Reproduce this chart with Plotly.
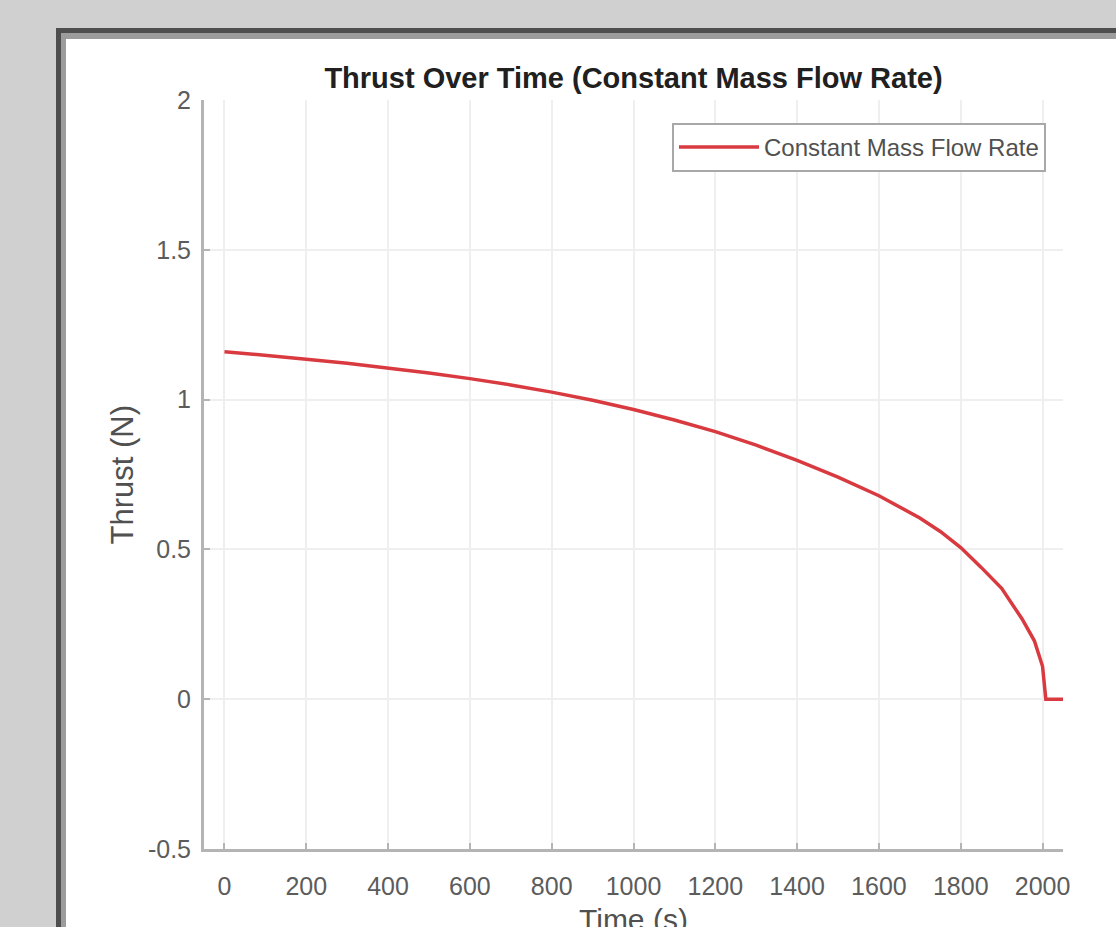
import plotly.graph_objects as go

# ---- data ----
time_s = [0, 100, 200, 300, 400, 500, 600, 700, 800, 900, 1000, 1100, 1200, 1300,
          1400, 1500, 1600, 1700, 1750, 1800, 1850, 1900, 1950, 1980, 2000, 2008, 2050]
thrust_N = [1.160, 1.148, 1.135, 1.121, 1.106, 1.089, 1.070, 1.049, 1.025, 0.998,
            0.967, 0.932, 0.893, 0.848, 0.797, 0.741, 0.679, 0.605, 0.560, 0.506,
            0.440, 0.370, 0.268, 0.195, 0.110, 0.0, 0.0]
x_ticks = [0, 200, 400, 600, 800, 1000, 1200, 1400, 1600, 1800, 2000]
y_ticks = [-0.5, 0, 0.5, 1, 1.5, 2]
y_tick_text = ["-0.5", "0", "0.5", "1", "1.5", "2"]
series_name = "Constant Mass Flow Rate"
title_text = "Thrust Over Time (Constant Mass Flow Rate)"
x_label = "Time (s)"
y_label = "Thrust (N)"

W, H = 1116, 927
L, R, T, B = 204, 53, 100, 78
PW, PH = W - L - R, H - T - B

def px(x):
    return (x - L) / PW

def py(y):
    return (H - B - y) / PH

FONT = "Liberation Sans, Arial, Helvetica, sans-serif"
BG = "#d1d0d1"

fig = go.Figure()
fig.add_trace(go.Scatter(
    x=time_s, y=thrust_N, mode="lines", name=series_name,
    line=dict(color="#d83a40", width=3.5),
))

shapes = [
    dict(type="rect", xref="paper", yref="paper", x0=px(56), x1=px(1130),
         y0=py(940), y1=py(28), fillcolor="#4e4e4e", line=dict(width=0), layer="below"),
    dict(type="rect", xref="paper", yref="paper", x0=px(61), x1=px(1130),
         y0=py(940), y1=py(33), fillcolor="#9c9c9c", line=dict(width=0), layer="below"),
    dict(type="rect", xref="paper", yref="paper", x0=px(66), x1=px(1130),
         y0=py(940), y1=py(39), fillcolor="#ffffff", line=dict(width=0), layer="below"),
]

fig.update_layout(
    width=W, height=H,
    margin=dict(l=L, r=R, t=T, b=B, pad=0),
    paper_bgcolor=BG,
    plot_bgcolor="#ffffff",
    shapes=shapes,
    font=dict(family=FONT, color="#404040", size=22),
    title=dict(text="<b>" + title_text + "</b>", x=0.5, xref="paper",
               y=1 - 78 / H, yref="container", xanchor="center", yanchor="middle",
               font=dict(size=29, color="#202020", family=FONT)),
    showlegend=True,
    legend=dict(x=px(1046), y=py(123), xanchor="right", yanchor="top",
                bgcolor="#ffffff", bordercolor="#a8a8a8", borderwidth=2,
                font=dict(size=24, color="#505050", family=FONT),
                itemwidth=80),
    annotations=[
        dict(text=y_label, textangle=-90, x=px(122), y=0.5, xref="paper", yref="paper",
             showarrow=False, xanchor="center", yanchor="middle",
             font=dict(size=31, color="#505050", family=FONT)),
        dict(text=x_label, x=0.5, y=py(919), xref="paper", yref="paper",
             showarrow=False, xanchor="center", yanchor="middle",
             font=dict(size=30, color="#505050", family=FONT)),
    ],
)

fig.update_xaxes(
    range=[-50, 2050], tickvals=x_ticks, ticktext=[str(v) for v in x_ticks],
    showgrid=True, gridcolor="#efefef", gridwidth=2,
    showline=True, linecolor="#b4b4b4", linewidth=3,
    ticks="inside", ticklen=6, tickcolor="#b4b4b4", tickwidth=2,
    zeroline=False, ticklabelstandoff=13,
    tickfont=dict(size=25, color="#5c5c5c", family=FONT),
)
fig.update_yaxes(
    range=[-0.5, 2], tickvals=y_ticks, ticktext=y_tick_text,
    showgrid=True, gridcolor="#efefef", gridwidth=2,
    showline=True, linecolor="#b4b4b4", linewidth=3,
    ticks="inside", ticklen=6, tickcolor="#b4b4b4", tickwidth=2,
    zeroline=False, ticklabelstandoff=5,
    tickfont=dict(size=25, color="#5c5c5c", family=FONT),
)

fig.write_html(
    "out.html",
    config={"displayModeBar": False},
    post_script="document.body.style.margin='0';document.body.style.background='" + BG + "';",
)
